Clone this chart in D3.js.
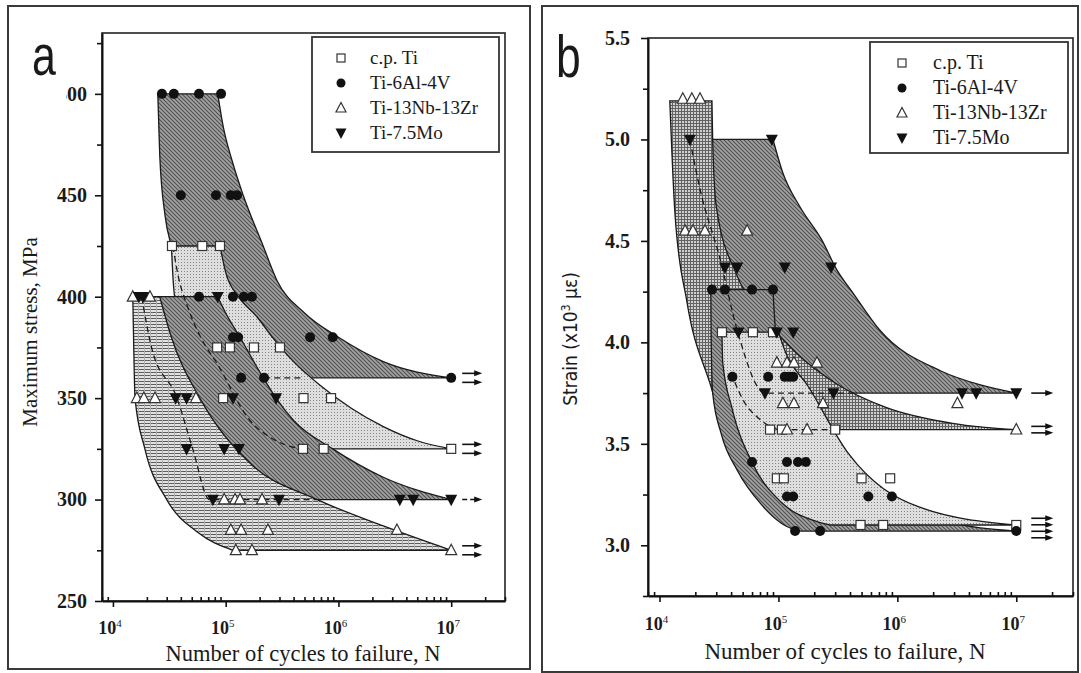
<!DOCTYPE html>
<html>
<head>
<meta charset="utf-8">
<script src="https://cdn.jsdelivr.net/npm/d3@7/dist/d3.min.js"></script>
<style>
  body { margin: 0; background: #fff; }
  text { font-family: "Liberation Serif", "Times New Roman", serif; fill: #1a1a1a; }
</style>
</head>
<body>
<svg id="chart" width="1081" height="673"></svg>
<script>
// ---------- values ----------
const legendNames = ["c.p. Ti", "Ti-6Al-4V", "Ti-13Nb-13Zr", "Ti-7.5Mo"];
const xTickExps = [4, 5, 6, 7];
const stressTicks = [250, 300, 350, 400, 450, 500];
const strainTicks = [3.0, 3.5, 4.0, 4.5, 5.0, 5.5];

// (a) maximum stress, MPa  vs  cycles
const aCpTi = [[3.34e4,425],[6.2e4,425],[8.9e4,425],[8.4e4,375],[1.09e5,375],[1.78e5,375],[3.03e5,375],
  [9.5e4,350],[4.9e5,350],[8.6e5,350],[4.85e5,325],[7.4e5,325],[1e7,325]];
const aTi64 = [[2.72e4,500],[3.47e4,500],[5.8e4,500],[9.1e4,500],[4.0e4,450],[8.2e4,450],[1.11e5,450],[1.26e5,450],
  [5.8e4,400],[1.16e5,400],[1.45e5,400],[1.71e5,400],[1.16e5,380],[1.29e5,380],[5.6e5,380],[8.9e5,380],
  [1.37e5,360],[2.19e5,360],[1e7,360]];
const aTiNbZr = [[1.5e4,400],[2.13e4,400],[1.63e4,350],[1.88e4,350],[2.36e4,350],[5.45e4,350],
  [9.7e4,300],[1.21e5,300],[1.34e5,300],[2.1e5,300],[1.11e5,285],[1.37e5,285],[2.37e5,285],[3.3e6,285],
  [1.23e5,275],[1.71e5,275],[1e7,275]];
const aTiMo = [[1.7e4,400],[1.85e4,400],[8.5e4,400],[3.6e4,350],[4.5e4,350],[1.16e5,350],[2.8e5,350],
  [4.5e4,325],[9.7e4,325],[1.31e5,325],[7.7e4,300],[2.97e5,300],[3.5e6,300],[4.6e6,300],[1e7,300]];

// (a) scatter bands: left and right boundary curves
const aTi64Left  = [[2.5e4,500],[2.6e4,470],[2.9e4,440],[3.3e4,425],[4.5e4,405],[7e4,390],[1.3e5,375],[2.5e5,365],[4.6e5,360]];
const aTi64Right = [[8.5e4,500],[9.5e4,484],[1.14e5,467],[1.43e5,450],[2.15e5,425],[2.85e5,408],[5e5,392],[1e6,380],[2.5e6,368],[1e7,360]];
const aCpLeft  = [[3.3e4,425],[3.45e4,405],[3.8e4,390],[5e4,370],[8e4,352],[1.4e5,338],[2.6e5,329],[4.6e5,325]];
const aCpRight = [[8.9e4,425],[1.0e5,412],[1.3e5,400],[1.9e5,390],[2.6e5,380],[4e5,368],[7e5,356],[1.3e6,345],[2.5e6,336],[5e6,329],[1e7,325]];
const aMoLeft  = [[1.7e4,400],[1.75e4,375],[2e4,350],[2.7e4,325],[4.5e4,308],[7.7e4,300]];
const aMoRight = [[8.5e4,400],[1.0e5,392],[1.34e5,380],[2e5,363],[2.8e5,350],[4e5,339],[8.9e5,325],[2.5e6,311],[1e7,300]];
const aNbLeft  = [[1.5e4,400],[1.53e4,375],[1.57e4,350],[1.92e4,325],[3.0e4,300],[5.6e4,284],[1.16e5,275]];
const aNbRight = [[2.6e4,400],[3.3e4,380],[5.9e4,350],[1.64e5,318],[6.5e5,300],[2.5e6,287],[1e7,275]];
// (a) dashed median lines
const aTi64Mean = [[2.2e5,360],[4.6e5,360]];
const aCpMean = [[3.4e4,425],[3.8e4,410],[4.6e4,395],[6e4,380],[8.4e4,367],[1.64e5,339],[2.6e5,330],[4.5e5,325]];
const aMoMean = [[1.8e4,400],[2.2e4,375],[3.7e4,350],[5.1e4,325],[7.2e4,300],[6.5e5,300]];
// (a) run-outs at 1e7: [level, number of arrows]
const aRunouts = [[360,2],[325,2],[300,1],[275,2]];

// (b) strain, x10^3 microstrain  vs  cycles
const bCpTi = [[3.35e4,4.05],[6.1e4,4.05],[9e4,4.05],[8.5e4,3.57],[1.07e5,3.57],[3e5,3.57],
  [9.7e4,3.33],[1.11e5,3.33],[5e5,3.33],[8.7e5,3.33],[4.9e5,3.1],[7.6e5,3.1],[1e7,3.1]];
const bTi64 = [[2.76e4,4.26],[3.55e4,4.26],[6e4,4.26],[9e4,4.26],[4.1e4,3.83],[8.2e4,3.83],[1.13e5,3.83],[1.23e5,3.83],[1.33e5,3.83],
  [6e4,3.41],[1.18e5,3.41],[1.46e5,3.41],[1.7e5,3.41],[1.18e5,3.24],[1.33e5,3.24],[5.7e5,3.24],[9e5,3.24],
  [1.38e5,3.07],[2.24e5,3.07],[1e7,3.07]];
const bTiNbZr = [[1.57e4,5.2],[1.87e4,5.2],[2.19e4,5.2],[1.64e4,4.55],[1.91e4,4.55],[2.41e4,4.55],[5.45e4,4.55],
  [9.7e4,3.9],[1.18e5,3.9],[1.35e5,3.9],[2.11e5,3.9],[1.09e5,3.7],[1.35e5,3.7],[2.37e5,3.7],[3.2e6,3.7],
  [1.18e5,3.57],[1.74e5,3.57],[1e7,3.57]];
const bTiMo = [[1.8e4,5.0],[8.8e4,5.0],[3.55e4,4.37],[4.5e4,4.37],[1.13e5,4.37],[2.77e5,4.37],
  [4.6e4,4.05],[9.7e4,4.05],[1.33e5,4.05],[7.7e4,3.75],[2.9e5,3.75],[3.5e6,3.75],[4.6e6,3.75],[1e7,3.75]];

const bMoLeft  = [[1.8e4,5.0],[2e4,4.6],[3e4,4.2],[6e4,3.9],[1.2e5,3.78],[2e5,3.75]];
const bMoRight = [[9e4,5.0],[1.09e5,4.835],[1.52e5,4.667],[2.32e5,4.504],[3.1e5,4.357],[4.24e5,4.243],[7.1e5,4.061],[2.3e6,3.86],[5e6,3.79],[1e7,3.75]];
const bNbLeft  = [[1.22e4,5.19],[1.35e4,4.63],[1.7e4,4.2],[2.7e4,3.785],[3.3e4,3.62],[3.9e4,3.57]];
const bNbRight = [[2.76e4,5.19],[2.8e4,4.99],[3e4,4.67],[4.4e4,4.34],[7e4,4.15],[1.4e5,3.95],[3e5,3.8],[8e5,3.68],[3e6,3.6],[1e7,3.57]];
const bTi64Left  = [[2.7e4,4.26],[2.72e4,4.0],[2.8e4,3.75],[3.3e4,3.55],[4.5e4,3.37],[7.2e4,3.2],[1.05e5,3.11],[1.45e5,3.07]];
const bTi64Right = [[9e4,4.26],[9.5e4,4.05],[1.2e5,3.88],[1.7e5,3.7],[3e5,3.47],[8e5,3.25],[2.5e6,3.12],[1e7,3.07]];
const bCpLeft  = [[3.35e4,4.05],[3.4e4,3.9],[4.07e4,3.676],[6.1e4,3.4],[1.05e5,3.213],[2.03e5,3.12],[2.7e5,3.1]];
const bCpRight = [[1.0e5,4.05],[1.15e5,3.95],[1.77e5,3.785],[3.9e5,3.45],[1.5e6,3.19],[1e7,3.1]];

const bMoMean = [[1.8e4,5.0],[2.2e4,4.75],[3.2e4,4.42],[4.5e4,4.06],[7.7e4,3.75],[4.5e5,3.75]];
const bCpMean = [[4.0e4,3.85],[5e4,3.72],[7e4,3.62],[9e4,3.58],[1.0e5,3.57],[3e5,3.57]];
const bRunouts = [[3.75,1],[3.57,2],[3.085,4]];

// ---------- drawing ----------
const svg = d3.select("#chart");
const defs = svg.append("defs");

function makePattern(id, w, h, bg, marks) {
  let p = defs.append("pattern").attr("id", id)
    .attr("patternUnits", "userSpaceOnUse")
    .attr("width", w).attr("height", h);
  p.append("rect").attr("width", w).attr("height", h).attr("fill", bg);
  marks(p);
}
makePattern("diag", 4, 4, "#a2a2a2", p => {
  p.append("path").attr("d", "M0,0L4,4M-1,3L1,5M3,-1L5,1")
    .attr("stroke", "#505050").attr("stroke-width", 1.1);
});
makePattern("dots", 3, 3, "#dedede", p => {
  p.append("rect").attr("x", 1).attr("y", 1).attr("width", 1).attr("height", 1).attr("fill", "#858585");
});
makePattern("hlines", 6, 3, "#e2e2e2", p => {
  p.append("rect").attr("width", 6).attr("height", 1).attr("fill", "#5e5e5e");
  p.append("rect").attr("x", 0).attr("width", 1).attr("height", 3).attr("fill", "#b0b0b0");
});
makePattern("grid", 3, 3, "#d0d0d0", p => {
  p.append("rect").attr("width", 3).attr("height", 1).attr("fill", "#626262");
  p.append("rect").attr("width", 1).attr("height", 3).attr("fill", "#626262");
});

function markerPath(type, s) {
  if (type === "up") return "M0," + (-s * 0.55) + "L" + (s / 2) + "," + (s * 0.4) + "L" + (-s / 2) + "," + (s * 0.4) + "Z";
  return "M0," + (s * 0.55) + "L" + (s / 2) + "," + (-s * 0.4) + "L" + (-s / 2) + "," + (-s * 0.4) + "Z";
}
function drawMarker(g, type, cx, cy, big) {
  if (type === "square") {
    let s = big ? 9 : 8;
    g.append("rect").attr("x", cx - s / 2).attr("y", cy - s / 2).attr("width", s).attr("height", s)
      .attr("fill", "#fff").attr("stroke", "#333").attr("stroke-width", 1.2);
  } else if (type === "circle") {
    g.append("circle").attr("cx", cx).attr("cy", cy).attr("r", big ? 5 : 4.5).attr("fill", "#111");
  } else if (type === "up") {
    g.append("path").attr("d", markerPath("up", big ? 11 : 10)).attr("transform", "translate(" + cx + "," + cy + ")")
      .attr("fill", "#fff").attr("stroke", "#333").attr("stroke-width", 1.2);
  } else {
    g.append("path").attr("d", markerPath("down", big ? 12 : 11)).attr("transform", "translate(" + cx + "," + cy + ")")
      .attr("fill", "#111");
  }
}
const markerTypes = ["square", "circle", "up", "down"];

function drawPanel(spec) {
  let g = svg.append("g");
  // outer border
  g.append("rect").attr("x", spec.frame[0]).attr("y", spec.frame[1])
    .attr("width", spec.frame[2] - spec.frame[0]).attr("height", spec.frame[3] - spec.frame[1])
    .attr("fill", "none").attr("stroke", "#3a3a3a").attr("stroke-width", 2);

  let x = d3.scaleLog().domain([8e3, 3e7]).range(spec.xr);
  let y = d3.scaleLinear().domain(spec.yd).range(spec.yr);
  let lineGen = d3.line().x(d => x(d[0])).y(d => y(d[1])).curve(d3.curveMonotoneX);

  // bands, back to front
  spec.bands.forEach(b => {
    let l = lineGen(b.left);
    let r = lineGen(b.right.slice().reverse());
    g.append("path").attr("d", l + "L" + r.slice(1) + "Z")
      .attr("fill", "url(#" + b.fill + ")")
      .attr("stroke", "#1a1a1a").attr("stroke-width", 1.3);
  });
  // dashed medians
  spec.means.forEach(m => {
    g.append("path").attr("d", lineGen(m)).attr("fill", "none")
      .attr("stroke", "#1a1a1a").attr("stroke-width", 1.3).attr("stroke-dasharray", "6,4");
  });
  // points
  spec.series.forEach((pts, i) => {
    pts.forEach(d => drawMarker(g, markerTypes[i], x(d[0]), y(d[1]), true));
  });
  // run-out arrows
  spec.runouts.forEach(ro => {
    let n = ro[1];
    for (let k = 0; k < n; k++) {
      let yy = y(ro[0]) + (k - (n - 1) / 2) * spec.arrowGap;
      let x0 = x(1e7) + spec.arrowX[0], x1 = x(1e7) + spec.arrowX[1];
      g.append("line").attr("x1", x0).attr("x2", x1 - 6).attr("y1", yy).attr("y2", yy)
        .attr("stroke", "#111").attr("stroke-width", 1.6)
        .attr("stroke-dasharray", n === 1 && spec.dashedSingle ? "5,3" : null);
      g.append("path").attr("d", "M" + x1 + "," + yy + "l-8,-3l0,6z").attr("fill", "#111");
    }
  });

  // frame of the plot
  g.append("rect").attr("x", spec.xr[0]).attr("y", spec.yr[1])
    .attr("width", spec.xr[1] - spec.xr[0]).attr("height", spec.yr[0] - spec.yr[1])
    .attr("fill", "none").attr("stroke", "#222").attr("stroke-width", 1.6);

  // x axis
  let xMajor = xTickExps.map(e => Math.pow(10, e));
  let xMinor = [];
  [3, 4, 5, 6, 7].forEach(e => [2, 3, 4, 5, 6, 7, 8, 9].forEach(m => {
    let v = m * Math.pow(10, e);
    if (v >= 8e3 && v <= 3e7) xMinor.push(v);
  }));
  let xa = g.append("g").attr("transform", "translate(0," + spec.yr[0] + ")");
  xa.call(d3.axisBottom(x).tickValues(xMajor).tickSizeInner(6).tickSizeOuter(0).tickFormat(""));
  xa.append("g").call(d3.axisBottom(x).tickValues(xMinor).tickSizeInner(-4).tickSizeOuter(0).tickFormat(""))
    .select(".domain").remove();
  xa.selectAll("path.domain").attr("stroke", "#111").attr("stroke-width", 2);
  xa.selectAll("line").attr("stroke", "#111").attr("stroke-width", 1.6);
  xTickExps.forEach(e => {
    let t = xa.append("text").attr("x", x(Math.pow(10, e)) - 3).attr("y", spec.xLabelDy)
      .attr("text-anchor", "middle").attr("font-size", 18).attr("font-weight", "bold");
    t.append("tspan").text("10");
    t.append("tspan").attr("dy", -7).attr("font-size", 11).attr("font-weight", "normal").text(e);
  });
  g.append("text").attr("x", spec.xTitle[0]).attr("y", spec.xTitle[1]).attr("text-anchor", "middle")
    .attr("font-size", spec.xTitleSize).text("Number of cycles to failure, N");

  // y axis
  let ya = g.append("g").attr("transform", "translate(" + spec.xr[0] + ",0)");
  ya.call(d3.axisLeft(y).tickValues(spec.yMajor).tickSizeInner(7).tickSizeOuter(0)
    .tickPadding(spec.yPad).tickFormat(spec.yFormat));
  ya.append("g").call(d3.axisLeft(y).tickValues(spec.yMinor).tickSizeInner(5).tickSizeOuter(0).tickFormat(""))
    .select(".domain").remove();
  ya.selectAll("path.domain").attr("stroke", "#111").attr("stroke-width", 2);
  ya.selectAll("line").attr("stroke", "#111").attr("stroke-width", 1.6);
  ya.selectAll("text").attr("font-size", 20).attr("font-weight", "bold")
    .attr("font-family", "Liberation Serif, serif").attr("fill", "#1a1a1a");

  // legend
  let lg = g.append("g");
  lg.append("rect").attr("x", spec.legend[0]).attr("y", spec.legend[1])
    .attr("width", spec.legend[2]).attr("height", spec.legend[3])
    .attr("fill", "#fff").attr("stroke", "#333").attr("stroke-width", 1.8);
  legendNames.forEach((name, i) => {
    let yy = spec.legend[1] + spec.legendRow0 + i * 25;
    drawMarker(lg, markerTypes[i], spec.legend[0] + spec.legendSym, yy, false);
    lg.append("text").attr("x", spec.legend[0] + spec.legendText).attr("y", yy + 6)
      .attr("font-size", spec.legendSize).text(name);
  });
  return g;
}

let gA = drawPanel({
  frame: [8, 6, 530, 669],
  xr: [102, 505], yr: [601, 33], yd: [250, 530],
  bands: [
    { left: aTi64Left, right: aTi64Right, fill: "diag" },
    { left: aCpLeft, right: aCpRight, fill: "dots" },
    { left: aMoLeft, right: aMoRight, fill: "diag" },
    { left: aNbLeft, right: aNbRight, fill: "hlines" }
  ],
  means: [aTi64Mean, aCpMean, aMoMean],
  series: [aCpTi, aTi64, aTiNbZr, aTiMo],
  runouts: aRunouts, arrowGap: 9, arrowX: [11, 31], dashedSingle: true,
  yMajor: stressTicks, yMinor: [275, 325, 375, 425, 475, 525], yPad: 8, yFormat: d3.format("d"),
  xLabelDy: 33, xTitle: [303, 661], xTitleSize: 22.5,
  legend: [312, 37, 187, 115], legendRow0: 21, legendSym: 29, legendText: 58, legendSize: 19
});
gA.append("text").attr("x", 30).attr("y", 332).attr("text-anchor", "middle")
  .attr("transform", "rotate(-90,30,332)").attr("dy", "0.35em").attr("font-size", 21)
  .text("Maximum stress, MPa");
// panel letter pasted over the top tick label
gA.append("rect").attr("x", 20).attr("y", 34).attr("width", 46).attr("height", 68).attr("fill", "#fff");
gA.append("text").attr("transform", "translate(32,75) scale(0.74,1)").attr("font-size", 58)
  .style("font-family", "Liberation Sans, Arial, sans-serif").text("a");

let gB = drawPanel({
  frame: [542, 6, 1078, 672],
  xr: [648, 1073], yr: [596, 38], yd: [2.75, 5.5],
  bands: [
    { left: bMoLeft, right: bMoRight, fill: "diag" },
    { left: bNbLeft, right: bNbRight, fill: "grid" },
    { left: bTi64Left, right: bTi64Right, fill: "diag" },
    { left: bCpLeft, right: bCpRight, fill: "dots" }
  ],
  means: [bMoMean, bCpMean],
  series: [bCpTi, bTi64, bTiNbZr, bTiMo],
  runouts: bRunouts, arrowGap: 6.5, arrowX: [15, 37], dashedSingle: false,
  yMajor: strainTicks, yMinor: [2.75, 3.25, 3.75, 4.25, 4.75, 5.25], yPad: 11, yFormat: d3.format(".1f"),
  xLabelDy: 34, xTitle: [845, 659], xTitleSize: 23,
  legend: [870, 42, 198, 111], legendRow0: 21, legendSym: 32, legendText: 63, legendSize: 20
});
let yt = gB.append("text").attr("x", 570).attr("y", 339).attr("text-anchor", "middle")
  .attr("transform", "rotate(-90,570,339)").attr("dy", "0.35em").attr("font-size", 19)
  .style("font-family", "Liberation Sans Narrow, DejaVu Sans Condensed, sans-serif");
yt.append("tspan").text("Strain (x10");
yt.append("tspan").attr("dy", -7).attr("font-size", 12).text("3");
yt.append("tspan").attr("dy", 7).text(" με)");
gB.append("text").attr("transform", "translate(556,77) scale(0.74,1)").attr("font-size", 60)
  .style("font-family", "Liberation Sans, Arial, sans-serif").text("b");
</script>
</body>
</html>
